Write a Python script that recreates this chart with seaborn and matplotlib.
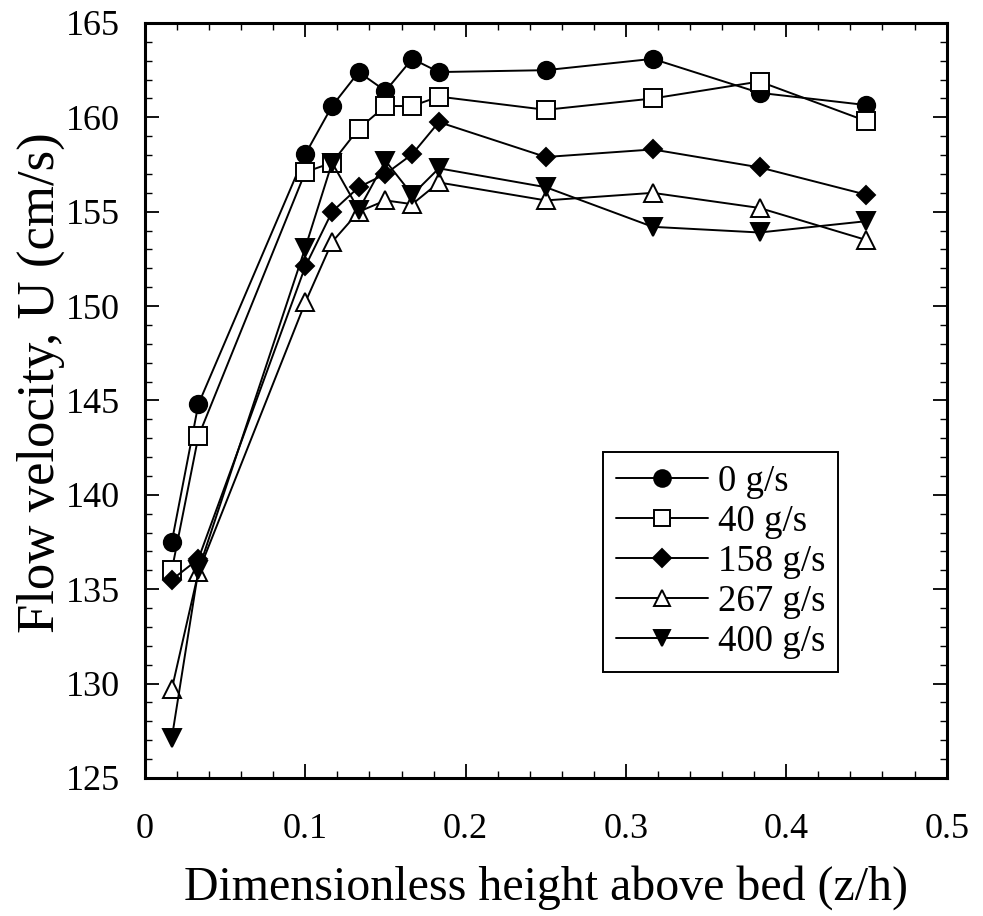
import matplotlib
matplotlib.use("Agg")
import matplotlib.pyplot as plt
import seaborn as sns
import pandas as pd
from matplotlib.ticker import MultipleLocator

z_h = [0.0167, 0.0333, 0.1, 0.1167, 0.1333, 0.15, 0.1667, 0.1833, 0.25, 0.3167, 0.3833, 0.45]

u_0 = [137.5, 144.8, 158.05, 160.6, 162.4, 161.4, 163.1, 162.4, 162.5, 163.1, 161.3, 160.65]
u_40 = [136.0, 143.1, 157.1, 157.6, 159.4, 160.6, 160.6, 161.1, 160.4, 161.0, 161.9, 159.8]
u_158 = [135.5, 136.6, 152.1, 155.0, 156.3, 157.0, 158.05, 159.75, 157.9, 158.3, 157.35, 155.9]
u_267 = [129.7, 135.9, 150.2, 153.4, 155.0, 155.6, 155.4, 156.55, 155.6, 156.0, 155.2, 153.5]
u_400 = [127.1, 136.0, 153.1, 157.6, 155.1, 157.7, 155.9, 157.3, 156.3, 154.2, 153.9, 154.5]

series_labels = ["0 g/s", "40 g/s", "158 g/s", "267 g/s", "400 g/s"]
series_values = [u_0, u_40, u_158, u_267, u_400]

x_ticks = [0, 0.1, 0.2, 0.3, 0.4, 0.5]
x_tick_labels = ["0", "0.1", "0.2", "0.3", "0.4", "0.5"]
y_ticks = [125, 130, 135, 140, 145, 150, 155, 160, 165]

styles = {
    "0 g/s": dict(marker="o", mfc="black", ms=12.5, lms=12),
    "40 g/s": dict(marker="s", mfc="white", ms=12.5, lms=11.5),
    "158 g/s": dict(marker="D", mfc="black", ms=9.5, lms=9),
    "267 g/s": dict(marker="^", mfc="white", ms=12.5, lms=11.5),
    "400 g/s": dict(marker="v", mfc="black", ms=12.5, lms=11.5),
}

sns.set_theme(style="ticks")
plt.rcParams["font.family"] = ["Liberation Serif", "DejaVu Serif"]
plt.rcParams["text.color"] = "black"
plt.rcParams["axes.labelcolor"] = "black"
plt.rcParams["xtick.color"] = "black"
plt.rcParams["ytick.color"] = "black"
plt.rcParams["axes.edgecolor"] = "black"

fig = plt.figure(figsize=(9.83, 9.16), dpi=100)
ax = fig.add_axes([0.1475, 0.1507, 0.8155, 0.8242])

for lab, vals in zip(series_labels, series_values):
    df = pd.DataFrame({"x": z_h, "y": vals})
    st = styles[lab]
    sns.lineplot(data=df, x="x", y="y", ax=ax, sort=False, label=lab,
                 color="black", linewidth=1.4, marker=st["marker"],
                 markersize=st["ms"], markerfacecolor=st["mfc"],
                 markeredgecolor="black", markeredgewidth=1.4)

ax.set_xlim(0, 0.5)
ax.set_ylim(125, 165)
ax.set_xticks(x_ticks)
ax.set_xticklabels(x_tick_labels)
ax.set_yticks(y_ticks)
ax.xaxis.set_minor_locator(MultipleLocator(0.02))
ax.yaxis.set_minor_locator(MultipleLocator(1))
ax.tick_params(which="both", direction="in", top=True, right=True, colors="black")
ax.tick_params(which="major", length=10, width=1.3, labelsize=26)
ax.tick_params(axis="x", which="major", pad=25)
ax.tick_params(axis="y", which="major", pad=18)
ax.tick_params(which="minor", length=5, width=1.0)
for sp in ax.spines.values():
    sp.set_linewidth(2.2)
    sp.set_color("black")

ax.set_xlabel("Dimensionless height above bed (z/h)", fontsize=34.5, labelpad=14, color="black")
ax.set_ylabel("Flow velocity, U (cm/s)", fontsize=38, color="black")
ax.yaxis.set_label_coords(-0.1, 0.523)

leg = ax.legend(loc="upper left", bbox_to_anchor=(0.571, 0.432), fontsize=26.5,
                frameon=True, fancybox=False, edgecolor="black", framealpha=1,
                handlelength=2.5, handletextpad=0.27, labelspacing=0.15,
                borderpad=0.35, borderaxespad=0, labelcolor="black")
leg.get_frame().set_linewidth(1.4)
for h, lab in zip(leg.legend_handles, series_labels):
    h.set_markersize(styles[lab]["lms"])

fig.savefig("out.png", dpi=100)
